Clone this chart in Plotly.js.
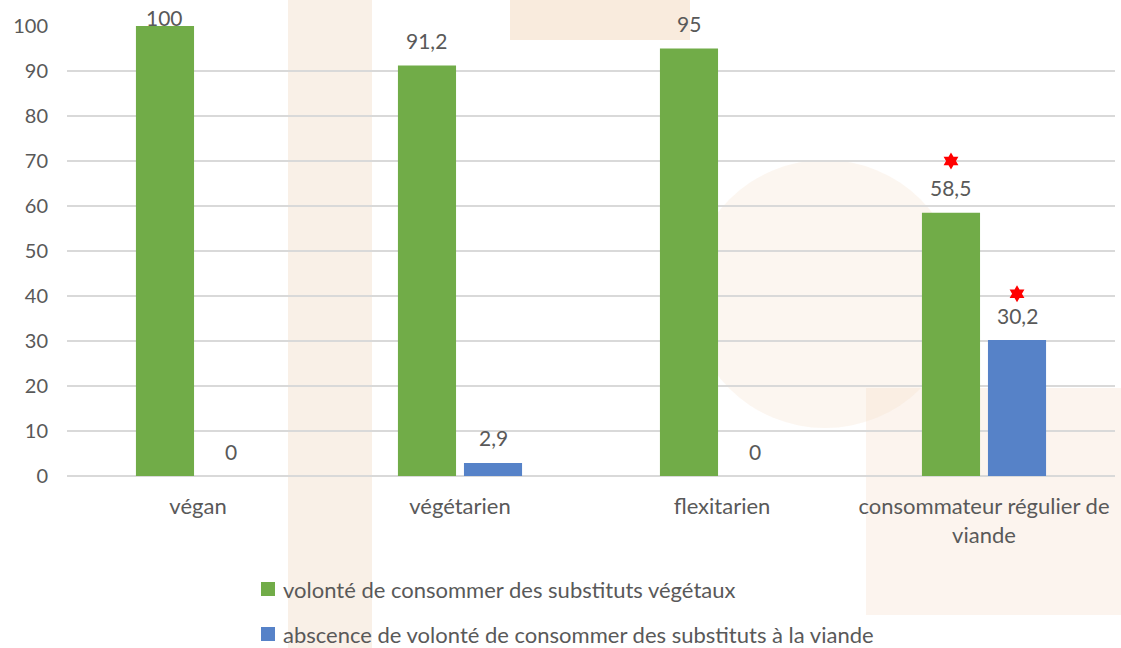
<!DOCTYPE html>
<html>
<head>
<meta charset="utf-8">
<script src="https://cdn.plot.ly/plotly-3.0.1.min.js"></script>
<style>html,body{margin:0;padding:0;background:#fff;}#chart{width:1121px;height:648px;}</style>
</head>
<body>
<div id="chart"></div>
<script>
// ---- data ----
const categories = ["végan", "végétarien", "flexitarien", "consommateur régulier de<br>viande"];
const seriesNames = ["volonté de consommer des substituts végétaux",
                     "abscence de volonté de consommer des substituts à la viande"];
const greenValues = [100, 91.2, 95, 58.5];
const blueValues = [0, 2.9, 0, 30.2];
const greenSignificant = [false, false, false, true];
const blueSignificant = [false, false, false, true];
const yTicks = [0, 10, 20, 30, 40, 50, 60, 70, 80, 90, 100];

// ---- layout constants ----
const W = 1121, H = 648;
const M = {l: 67, r: 6, t: 26, b: 0};
const PLOT_BOTTOM = 476;           // pixel row of the value 0
const plotW = W - M.l - M.r, paperH = H - M.t - M.b;
const plotH = PLOT_BOTTOM - M.t;
const BARGAP = 0.496;
const slot = (1 - BARGAP) / 2;
const seriesColors = ["#71AC48", "#5682C8"];
const textCol = "#595959";
const FONT = "Lato, 'Liberation Sans', sans-serif";

const idx = categories.map((_, i) => i);
const fmt = v => String(v).replace('.', ',');

// pixel -> paper helpers
const px = x => (x - M.l) / plotW;
const py = y => (H - M.b - y) / paperH;

const traces = [
  {type: 'bar', name: seriesNames[0], x: idx, y: greenValues, marker: {color: seriesColors[0]},
   hoverinfo: 'skip', showlegend: false},
  {type: 'bar', name: seriesNames[1], x: idx, y: blueValues, marker: {color: seriesColors[1]},
   hoverinfo: 'skip', showlegend: false}
];

// significance stars
const starX = [], starY = [];
idx.forEach(i => {
  if (greenSignificant[i]) { starX.push(i - slot / 2); starY.push(greenValues[i] + 11.5); }
  if (blueSignificant[i]) { starX.push(i + slot / 2); starY.push(blueValues[i] + 10.3); }
});
traces.push({type: 'scatter', mode: 'markers', x: starX, y: starY, showlegend: false,
  hoverinfo: 'skip', cliponaxis: false,
  marker: {symbol: 'hexagram', size: 13, color: '#FF0000', line: {width: 0}}});

// value labels
const annotations = [];
const pxPerUnit = plotH / 100;
function addLabel(i, v, dx) {
  const room = (100 - v) * pxPerUnit + (M.t - 17);
  const shift = Math.min(25, room);
  annotations.push({x: i + dx, y: v, xref: 'x', yref: 'y', yshift: shift, text: fmt(v), showarrow: false,
    yanchor: 'middle', xanchor: 'center', font: {family: FONT, size: 21, color: textCol}});
}
idx.forEach(i => { addLabel(i, greenValues[i], -slot / 2); addLabel(i, blueValues[i], slot / 2); });

// faint watermark-like background decoration
const shapes = [
  {type: 'rect', xref: 'paper', yref: 'paper', x0: px(288), x1: px(372), y0: py(648), y1: py(0),
   fillcolor: '#F9F0E7', line: {width: 0}, layer: 'below'},
  {type: 'rect', xref: 'paper', yref: 'paper', x0: px(866), x1: px(1121), y0: py(615), y1: py(388),
   fillcolor: '#FCF4EE', line: {width: 0}, layer: 'below'},
  {type: 'circle', xref: 'paper', yref: 'paper', x0: px(690), x1: px(960), y0: py(428), y1: py(160),
   fillcolor: 'rgba(244,222,200,0.28)', line: {width: 0}, layer: 'below'},
  {type: 'rect', xref: 'paper', yref: 'paper', x0: px(510), x1: px(690), y0: py(40), y1: py(0),
   fillcolor: '#F9EBDD', line: {width: 0}, layer: 'below'}
];

// legend (drawn as swatches + text, stacked below the chart)
const LEG_X = 261, LEG_Y0 = 589, LEG_STEP = 45, SW = 14;
seriesNames.forEach((name, k) => {
  const cy = LEG_Y0 + k * LEG_STEP;
  shapes.push({type: 'rect', xref: 'paper', yref: 'paper',
    x0: px(LEG_X), x1: px(LEG_X + SW), y0: py(cy + SW / 2), y1: py(cy - SW / 2),
    fillcolor: seriesColors[k], line: {width: 0}, layer: 'above'});
  annotations.push({xref: 'paper', yref: 'paper', x: px(LEG_X + SW + 6), y: py(cy),
    xanchor: 'left', yanchor: 'middle', text: name, showarrow: false,
    font: {family: FONT, size: 22, color: textCol}});
});

const layout = {
  width: W, height: H,
  margin: M,
  paper_bgcolor: '#FFFFFF', plot_bgcolor: 'rgba(0,0,0,0)',
  barmode: 'group', bargap: BARGAP, bargroupgap: 0.12,
  separators: ', ',
  font: {family: FONT, size: 20, color: textCol},
  showlegend: false,
  xaxis: {range: [-0.5, categories.length - 0.5], tickvals: idx, ticktext: categories,
    showgrid: false, zeroline: false, showline: false, ticks: '', ticklabelstandoff: 15,
    tickfont: {family: FONT, size: 22, color: textCol}, fixedrange: true, automargin: false},
  yaxis: {range: [0, 100], domain: [py(PLOT_BOTTOM), 1], tickvals: yTicks,
    showgrid: true, gridcolor: '#D9D9D9', gridwidth: 1.5,
    zeroline: true, zerolinecolor: '#D9D9D9', zerolinewidth: 1.5, showline: false, ticks: '',
    ticklabelstandoff: 18, tickfont: {family: FONT, size: 20, color: textCol}, fixedrange: true,
    automargin: false},
  annotations: annotations,
  shapes: shapes
};

Plotly.newPlot('chart', traces, layout, {displayModeBar: false, staticPlot: true});
</script>
</body>
</html>
